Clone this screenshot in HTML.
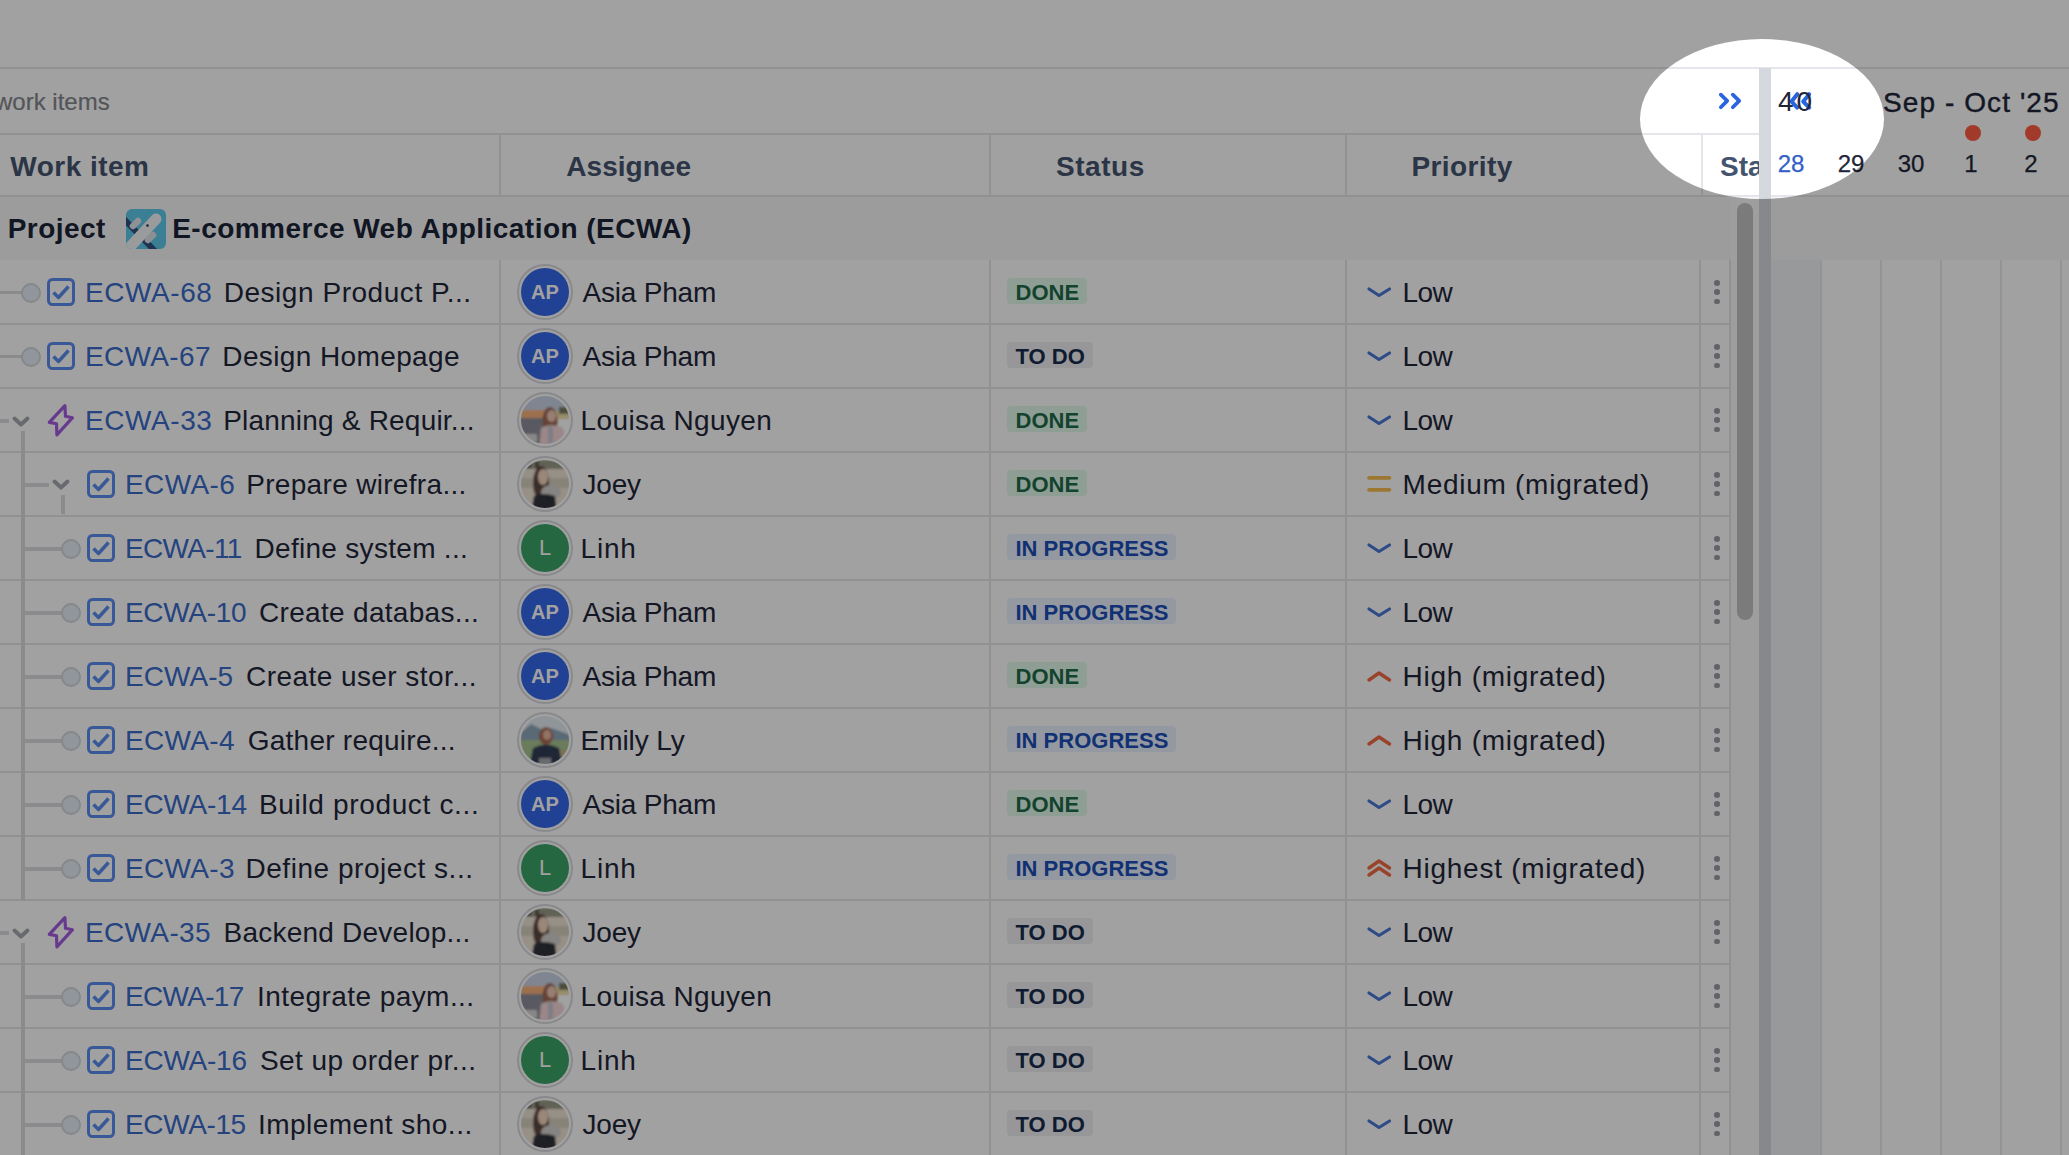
<!DOCTYPE html><html><head><meta charset="utf-8"><style>
*{margin:0;padding:0;box-sizing:border-box}
html,body{width:2069px;height:1155px;overflow:hidden;background:#fff}
body{position:relative;font-family:"Liberation Sans",sans-serif}
.t{position:absolute;white-space:nowrap;line-height:64px;font-size:28px;color:#1f2639;-webkit-text-stroke:0}
.hd,.b,.loz{-webkit-text-stroke:0}
.hd{font-weight:bold;color:#44546f}
.b{font-weight:bold;color:#1c2438}
.key{color:#3a6bc9}
.ttl{color:#1f2639}
.nm{color:#1f2639}
.ln{position:absolute;background:#e4e6e9}
.tl{position:absolute;background:#dcdde1}
.tln{background:#e9ebee}
.ic{position:absolute;overflow:visible}
.dot{position:absolute;width:20px;height:20px;border-radius:50%;background:#e6ecf8;border:2.5px solid #d4d6db}
.av{position:absolute;width:56px;height:56px;border-radius:50%;background:#fff;border:2px solid #d9dade;padding:2px}
.avi{position:relative;width:48px;height:48px;border-radius:50%;overflow:hidden;text-align:center}
.ini{display:block;line-height:48px;font-size:20px;font-weight:bold;color:#fff}
.loz{position:absolute;height:26px;line-height:26px;padding:1.5px 8px 0 8.5px;border-radius:4px;font-size:22px;font-weight:bold;white-space:nowrap}
.more{position:absolute;width:6px;height:26px}
.more i{display:block;width:5.6px;height:5.6px;border-radius:50%;background:#9a9ea6;margin-bottom:3.7px}
</style></head><body>
<div class="ln" style="left:0;top:67px;width:2069px;height:2px"></div>
<div class="ln" style="left:0;top:133px;width:1759px;height:2px"></div>
<div class="ln" style="left:0;top:195px;width:2069px;height:2px"></div>
<div class="t" style="left:-5px;top:70px;font-size:24px;color:#84878d;-webkit-text-stroke:0.2px currentColor">work items</div>
<div class="t hd" style="left:10.3px;letter-spacing:0.469px;top:135px">Work item</div>
<div class="t hd" style="left:566.3px;letter-spacing:0.025px;top:135px">Assignee</div>
<div class="t hd" style="left:1056px;letter-spacing:0.54px;top:135px">Status</div>
<div class="t hd" style="left:1411.4px;letter-spacing:0.406px;top:135px">Priority</div>
<div class="t hd" style="left:1720px;top:135px;width:39px;overflow:hidden">Start date</div>
<div class="ln" style="left:499px;top:135px;width:2px;height:60px"></div>
<div class="ln" style="left:989px;top:135px;width:2px;height:60px"></div>
<div class="ln" style="left:1345px;top:135px;width:2px;height:60px"></div>
<div class="ln" style="left:1701px;top:135px;width:2px;height:60px"></div>
<div style="position:absolute;left:0;top:197px;width:1731px;height:63px;background:#f7f8f9"></div>
<div style="position:absolute;left:1731px;top:197px;width:28px;height:958px;background:#fbfbfc"></div>
<div style="position:absolute;left:1771px;top:197px;width:298px;height:63px;background:#f5f8f6"></div>
<div class="t b" style="left:7.7px;letter-spacing:0.45px;top:197px">Project</div>
<svg class="ic" style="left:126px;top:209px" width="40" height="40" viewBox="0 0 40 40"><defs><clipPath id="pc"><rect x="0" y="0" width="40" height="40" rx="6"/></clipPath></defs><g clip-path="url(#pc)"><rect x="0" y="0" width="40" height="40" fill="#5cc9ea"/><path d="M-2 10 L29 42" stroke="#30517f" stroke-width="6"/><path d="M7 17 L12 12" stroke="#e4e6ea" stroke-width="6.5" stroke-linecap="round"/><path d="M22 31 L27 26" stroke="#dfe2e8" stroke-width="6.5" stroke-linecap="round"/><path d="M3 39 L30 10" stroke="#f4f5f8" stroke-width="11" stroke-linecap="round"/><circle cx="21.5" cy="16.5" r="1.3" fill="#2a3a50"/></g></svg>
<div class="t b" style="left:172.2px;letter-spacing:0.469px;top:197px">E-commerce Web Application (ECWA)</div>
<div class="ln" style="left:0;top:323px;width:1731px;height:2px"></div>
<div class="ln" style="left:499px;top:260px;width:2px;height:64px"></div>
<div class="ln" style="left:989px;top:260px;width:2px;height:64px"></div>
<div class="ln" style="left:1345px;top:260px;width:2px;height:64px"></div>
<div class="ln" style="left:1699px;top:260px;width:2px;height:64px"></div>
<div class="ln" style="left:1729px;top:260px;width:2px;height:64px"></div>
<div class="tl" style="left:0;top:291px;width:24px;height:3px"></div>
<div class="dot" style="left:21px;top:283px"></div>
<svg class="ic" style="left:47px;top:278px" width="28" height="28" viewBox="0 0 28 28"><rect x="1.5" y="1.5" width="25" height="25" rx="4" fill="none" stroke="#5a8cf0" stroke-width="3"/><path d="M6.5 14.5 L11.5 19.5 L21.5 8.5" fill="none" stroke="#5a8cf0" stroke-width="3.4" stroke-linejoin="round"/></svg>
<div class="t key" style="left:85px;letter-spacing:0.574px;top:261px">ECWA-68</div>
<div class="t ttl" style="left:223.7px;letter-spacing:0.542px;top:261px">Design Product P...</div>
<div class="av" style="left:517px;top:264px"><div class="avi" style="background:#3567ea"><span class="ini">AP</span></div></div>
<div class="t nm" style="left:582.6px;letter-spacing:-0.221px;top:261px">Asia Pham</div>
<div class="loz" style="left:1007px;top:278px;background:#e2fbed;color:#1f6b4a">DONE</div>
<svg class="ic" style="left:1366px;top:285px" width="26" height="14" viewBox="0 0 26 14"><path d="M3 4 L13 10.5 L23.5 4" fill="none" stroke="#4a78d6" stroke-width="3.2" stroke-linecap="round" stroke-linejoin="round"/></svg>
<div class="t nm" style="left:1402.6px;letter-spacing:-0.572px;top:261px">Low</div>
<div class="more" style="left:1714.2px;top:280.2px"><i></i><i></i><i></i></div>
<div class="ln" style="left:0;top:387px;width:1731px;height:2px"></div>
<div class="ln" style="left:499px;top:324px;width:2px;height:64px"></div>
<div class="ln" style="left:989px;top:324px;width:2px;height:64px"></div>
<div class="ln" style="left:1345px;top:324px;width:2px;height:64px"></div>
<div class="ln" style="left:1699px;top:324px;width:2px;height:64px"></div>
<div class="ln" style="left:1729px;top:324px;width:2px;height:64px"></div>
<div class="tl" style="left:0;top:355px;width:24px;height:3px"></div>
<div class="dot" style="left:21px;top:347px"></div>
<svg class="ic" style="left:47px;top:342px" width="28" height="28" viewBox="0 0 28 28"><rect x="1.5" y="1.5" width="25" height="25" rx="4" fill="none" stroke="#5a8cf0" stroke-width="3"/><path d="M6.5 14.5 L11.5 19.5 L21.5 8.5" fill="none" stroke="#5a8cf0" stroke-width="3.4" stroke-linejoin="round"/></svg>
<div class="t key" style="left:85px;letter-spacing:0.34px;top:325px">ECWA-67</div>
<div class="t ttl" style="left:222.3px;letter-spacing:0.383px;top:325px">Design Homepage</div>
<div class="av" style="left:517px;top:328px"><div class="avi" style="background:#3567ea"><span class="ini">AP</span></div></div>
<div class="t nm" style="left:582.6px;letter-spacing:-0.221px;top:325px">Asia Pham</div>
<div class="loz" style="left:1007px;top:342px;background:#eff0f3;color:#172b4d">TO DO</div>
<svg class="ic" style="left:1366px;top:349px" width="26" height="14" viewBox="0 0 26 14"><path d="M3 4 L13 10.5 L23.5 4" fill="none" stroke="#4a78d6" stroke-width="3.2" stroke-linecap="round" stroke-linejoin="round"/></svg>
<div class="t nm" style="left:1402.6px;letter-spacing:-0.572px;top:325px">Low</div>
<div class="more" style="left:1714.2px;top:344.2px"><i></i><i></i><i></i></div>
<div class="ln" style="left:0;top:451px;width:1731px;height:2px"></div>
<div class="ln" style="left:499px;top:388px;width:2px;height:64px"></div>
<div class="ln" style="left:989px;top:388px;width:2px;height:64px"></div>
<div class="ln" style="left:1345px;top:388px;width:2px;height:64px"></div>
<div class="ln" style="left:1699px;top:388px;width:2px;height:64px"></div>
<div class="ln" style="left:1729px;top:388px;width:2px;height:64px"></div>
<div class="tl" style="left:0;top:419px;width:9px;height:4px"></div>
<svg class="ic" style="left:12px;top:416px" width="18" height="12" viewBox="0 0 18 12"><path d="M2.5 2.5 L9 8.5 L15.5 2.5" fill="none" stroke="#a5a9b0" stroke-width="4" stroke-linecap="round" stroke-linejoin="round"/></svg>
<svg class="ic" style="left:47px;top:404px" width="28" height="32" viewBox="0 0 28 32"><path d="M17.9 1.6 L18.5 12.3 L25.5 13.7 L9.9 30.8 L9.5 19.7 L2.3 18.4 Z" fill="none" stroke="#a45de0" stroke-width="3.2" stroke-linejoin="round"/></svg>
<div class="tl" style="left:21px;top:431px;width:4px;height:22px"></div>
<div class="t key" style="left:85px;letter-spacing:0.574px;top:389px">ECWA-33</div>
<div class="t ttl" style="left:223.2px;letter-spacing:0.205px;top:389px">Planning &amp; Requir...</div>
<div class="av" style="left:517px;top:392px"><svg class="avi" width="48" height="48" viewBox="0 0 48 48"><defs><filter id="blLN420" x="-10%" y="-10%" width="120%" height="120%"><feGaussianBlur stdDeviation="1.3"/></filter></defs><g filter="url(#blLN420)"><rect x="-4" y="-4" width="56" height="22" fill="#c9d3e6"/><rect x="-4" y="14" width="30" height="8" fill="#f7b27a"/><rect x="26" y="15" width="26" height="8" fill="#f0e0a8"/><rect x="-4" y="22" width="30" height="30" fill="#8e8e9c"/><rect x="38" y="11" width="12" height="7" fill="#7a7a60"/><rect x="2" y="38" width="14" height="8" fill="#d8d8d8"/><ellipse cx="29" cy="25" rx="7.5" ry="14" fill="#a06858"/><ellipse cx="30.5" cy="20" rx="4.5" ry="6" fill="#f0c8b4"/><path d="M18 52 L20 32 Q30 26 42 32 L46 52 Z" fill="#f5d6d6"/><rect x="27" y="30" width="5" height="20" fill="#c8c8d4"/></g></svg></div>
<div class="t nm" style="left:580.6px;letter-spacing:0.364px;top:389px">Louisa Nguyen</div>
<div class="loz" style="left:1007px;top:406px;background:#e2fbed;color:#1f6b4a">DONE</div>
<svg class="ic" style="left:1366px;top:413px" width="26" height="14" viewBox="0 0 26 14"><path d="M3 4 L13 10.5 L23.5 4" fill="none" stroke="#4a78d6" stroke-width="3.2" stroke-linecap="round" stroke-linejoin="round"/></svg>
<div class="t nm" style="left:1402.6px;letter-spacing:-0.572px;top:389px">Low</div>
<div class="more" style="left:1714.2px;top:408.2px"><i></i><i></i><i></i></div>
<div class="ln" style="left:0;top:515px;width:1731px;height:2px"></div>
<div class="ln" style="left:499px;top:452px;width:2px;height:64px"></div>
<div class="ln" style="left:989px;top:452px;width:2px;height:64px"></div>
<div class="ln" style="left:1345px;top:452px;width:2px;height:64px"></div>
<div class="ln" style="left:1699px;top:452px;width:2px;height:64px"></div>
<div class="ln" style="left:1729px;top:452px;width:2px;height:64px"></div>
<div class="tl" style="left:21px;top:452px;width:4px;height:64px"></div>
<div class="tl" style="left:21px;top:483px;width:28px;height:4px"></div>
<svg class="ic" style="left:52px;top:479px" width="18" height="12" viewBox="0 0 18 12"><path d="M2.5 2.5 L9 8.5 L15.5 2.5" fill="none" stroke="#a5a9b0" stroke-width="4" stroke-linecap="round" stroke-linejoin="round"/></svg>
<div class="tl" style="left:61px;top:495px;width:4px;height:19px"></div>
<svg class="ic" style="left:87px;top:470px" width="28" height="28" viewBox="0 0 28 28"><rect x="1.5" y="1.5" width="25" height="25" rx="4" fill="none" stroke="#5a8cf0" stroke-width="3"/><path d="M6.5 14.5 L11.5 19.5 L21.5 8.5" fill="none" stroke="#5a8cf0" stroke-width="3.4" stroke-linejoin="round"/></svg>
<div class="t key" style="left:125px;letter-spacing:0.403px;top:453px">ECWA-6</div>
<div class="t ttl" style="left:246.2px;letter-spacing:0.32px;top:453px">Prepare wirefra...</div>
<div class="av" style="left:517px;top:456px"><svg class="avi" width="48" height="48" viewBox="0 0 48 48"><defs><filter id="blJO484" x="-10%" y="-10%" width="120%" height="120%"><feGaussianBlur stdDeviation="1.3"/></filter></defs><g filter="url(#blJO484)"><rect x="-4" y="-4" width="56" height="56" fill="#eee4d4"/><rect x="-4" y="0" width="56" height="9" fill="#9c9a88"/><rect x="6" y="2" width="4" height="6" fill="#5a5a4e"/><rect x="14" y="2" width="4" height="6" fill="#5a5a4e"/><rect x="-4" y="18" width="56" height="10" fill="#d8d0c0"/><ellipse cx="20" cy="23" rx="8" ry="17" fill="#5e4640"/><ellipse cx="22" cy="17" rx="5" ry="8" fill="#f6d6c2"/><ellipse cx="30" cy="32" rx="10" ry="7" fill="#d4d2ce"/><path d="M10 52 L13 36 Q22 32 34 36 L36 52 Z" fill="#30333e"/></g></svg></div>
<div class="t nm" style="left:582.6px;letter-spacing:-0.248px;top:453px">Joey</div>
<div class="loz" style="left:1007px;top:470px;background:#e2fbed;color:#1f6b4a">DONE</div>
<svg class="ic" style="left:1366px;top:474px" width="26" height="20" viewBox="0 0 26 20"><path d="M3 3.8 L23.5 3.8 M3 15.8 L23.5 15.8" fill="none" stroke="#f8bd4e" stroke-width="3.7" stroke-linecap="round"/></svg>
<div class="t nm" style="left:1402.6px;letter-spacing:0.73px;top:453px">Medium (migrated)</div>
<div class="more" style="left:1714.2px;top:472.2px"><i></i><i></i><i></i></div>
<div class="ln" style="left:0;top:579px;width:1731px;height:2px"></div>
<div class="ln" style="left:499px;top:516px;width:2px;height:64px"></div>
<div class="ln" style="left:989px;top:516px;width:2px;height:64px"></div>
<div class="ln" style="left:1345px;top:516px;width:2px;height:64px"></div>
<div class="ln" style="left:1699px;top:516px;width:2px;height:64px"></div>
<div class="ln" style="left:1729px;top:516px;width:2px;height:64px"></div>
<div class="tl" style="left:21px;top:516px;width:4px;height:64px"></div>
<div class="tl" style="left:21px;top:547px;width:44px;height:4px"></div>
<div class="dot" style="left:61px;top:539px"></div>
<svg class="ic" style="left:87px;top:534px" width="28" height="28" viewBox="0 0 28 28"><rect x="1.5" y="1.5" width="25" height="25" rx="4" fill="none" stroke="#5a8cf0" stroke-width="3"/><path d="M6.5 14.5 L11.5 19.5 L21.5 8.5" fill="none" stroke="#5a8cf0" stroke-width="3.4" stroke-linejoin="round"/></svg>
<div class="t key" style="left:125px;letter-spacing:-0.663px;top:517px">ECWA-11</div>
<div class="t ttl" style="left:254.5px;letter-spacing:0.298px;top:517px">Define system ...</div>
<div class="av" style="left:517px;top:520px"><div class="avi" style="background:#3ba366"><span class="ini" style="font-weight:normal;font-size:22px">L</span></div></div>
<div class="t nm" style="left:580.6px;letter-spacing:0.778px;top:517px">Linh</div>
<div class="loz" style="left:1007px;top:534px;background:#ebf1fd;color:#1b4fb8">IN PROGRESS</div>
<svg class="ic" style="left:1366px;top:541px" width="26" height="14" viewBox="0 0 26 14"><path d="M3 4 L13 10.5 L23.5 4" fill="none" stroke="#4a78d6" stroke-width="3.2" stroke-linecap="round" stroke-linejoin="round"/></svg>
<div class="t nm" style="left:1402.6px;letter-spacing:-0.572px;top:517px">Low</div>
<div class="more" style="left:1714.2px;top:536.2px"><i></i><i></i><i></i></div>
<div class="ln" style="left:0;top:643px;width:1731px;height:2px"></div>
<div class="ln" style="left:499px;top:580px;width:2px;height:64px"></div>
<div class="ln" style="left:989px;top:580px;width:2px;height:64px"></div>
<div class="ln" style="left:1345px;top:580px;width:2px;height:64px"></div>
<div class="ln" style="left:1699px;top:580px;width:2px;height:64px"></div>
<div class="ln" style="left:1729px;top:580px;width:2px;height:64px"></div>
<div class="tl" style="left:21px;top:580px;width:4px;height:64px"></div>
<div class="tl" style="left:21px;top:611px;width:44px;height:4px"></div>
<div class="dot" style="left:61px;top:603px"></div>
<svg class="ic" style="left:87px;top:598px" width="28" height="28" viewBox="0 0 28 28"><rect x="1.5" y="1.5" width="25" height="25" rx="4" fill="none" stroke="#5a8cf0" stroke-width="3"/><path d="M6.5 14.5 L11.5 19.5 L21.5 8.5" fill="none" stroke="#5a8cf0" stroke-width="3.4" stroke-linejoin="round"/></svg>
<div class="t key" style="left:125px;letter-spacing:-0.326px;top:581px">ECWA-10</div>
<div class="t ttl" style="left:259px;letter-spacing:0.311px;top:581px">Create databas...</div>
<div class="av" style="left:517px;top:584px"><div class="avi" style="background:#3567ea"><span class="ini">AP</span></div></div>
<div class="t nm" style="left:582.6px;letter-spacing:-0.221px;top:581px">Asia Pham</div>
<div class="loz" style="left:1007px;top:598px;background:#ebf1fd;color:#1b4fb8">IN PROGRESS</div>
<svg class="ic" style="left:1366px;top:605px" width="26" height="14" viewBox="0 0 26 14"><path d="M3 4 L13 10.5 L23.5 4" fill="none" stroke="#4a78d6" stroke-width="3.2" stroke-linecap="round" stroke-linejoin="round"/></svg>
<div class="t nm" style="left:1402.6px;letter-spacing:-0.572px;top:581px">Low</div>
<div class="more" style="left:1714.2px;top:600.2px"><i></i><i></i><i></i></div>
<div class="ln" style="left:0;top:707px;width:1731px;height:2px"></div>
<div class="ln" style="left:499px;top:644px;width:2px;height:64px"></div>
<div class="ln" style="left:989px;top:644px;width:2px;height:64px"></div>
<div class="ln" style="left:1345px;top:644px;width:2px;height:64px"></div>
<div class="ln" style="left:1699px;top:644px;width:2px;height:64px"></div>
<div class="ln" style="left:1729px;top:644px;width:2px;height:64px"></div>
<div class="tl" style="left:21px;top:644px;width:4px;height:64px"></div>
<div class="tl" style="left:21px;top:675px;width:44px;height:4px"></div>
<div class="dot" style="left:61px;top:667px"></div>
<svg class="ic" style="left:87px;top:662px" width="28" height="28" viewBox="0 0 28 28"><rect x="1.5" y="1.5" width="25" height="25" rx="4" fill="none" stroke="#5a8cf0" stroke-width="3"/><path d="M6.5 14.5 L11.5 19.5 L21.5 8.5" fill="none" stroke="#5a8cf0" stroke-width="3.4" stroke-linejoin="round"/></svg>
<div class="t key" style="left:125px;letter-spacing:0.063px;top:645px">ECWA-5</div>
<div class="t ttl" style="left:246px;letter-spacing:0.441px;top:645px">Create user stor...</div>
<div class="av" style="left:517px;top:648px"><div class="avi" style="background:#3567ea"><span class="ini">AP</span></div></div>
<div class="t nm" style="left:582.6px;letter-spacing:-0.221px;top:645px">Asia Pham</div>
<div class="loz" style="left:1007px;top:662px;background:#e2fbed;color:#1f6b4a">DONE</div>
<svg class="ic" style="left:1366px;top:669px" width="26" height="14" viewBox="0 0 26 14"><path d="M3 11 L13 4 L23.5 11" fill="none" stroke="#f26a44" stroke-width="3.4" stroke-linecap="round" stroke-linejoin="round"/></svg>
<div class="t nm" style="left:1402.6px;letter-spacing:0.734px;top:645px">High (migrated)</div>
<div class="more" style="left:1714.2px;top:664.2px"><i></i><i></i><i></i></div>
<div class="ln" style="left:0;top:771px;width:1731px;height:2px"></div>
<div class="ln" style="left:499px;top:708px;width:2px;height:64px"></div>
<div class="ln" style="left:989px;top:708px;width:2px;height:64px"></div>
<div class="ln" style="left:1345px;top:708px;width:2px;height:64px"></div>
<div class="ln" style="left:1699px;top:708px;width:2px;height:64px"></div>
<div class="ln" style="left:1729px;top:708px;width:2px;height:64px"></div>
<div class="tl" style="left:21px;top:708px;width:4px;height:64px"></div>
<div class="tl" style="left:21px;top:739px;width:44px;height:4px"></div>
<div class="dot" style="left:61px;top:731px"></div>
<svg class="ic" style="left:87px;top:726px" width="28" height="28" viewBox="0 0 28 28"><rect x="1.5" y="1.5" width="25" height="25" rx="4" fill="none" stroke="#5a8cf0" stroke-width="3"/><path d="M6.5 14.5 L11.5 19.5 L21.5 8.5" fill="none" stroke="#5a8cf0" stroke-width="3.4" stroke-linejoin="round"/></svg>
<div class="t key" style="left:125px;letter-spacing:0.343px;top:709px">ECWA-4</div>
<div class="t ttl" style="left:247.7px;letter-spacing:0.25px;top:709px">Gather require...</div>
<div class="av" style="left:517px;top:712px"><svg class="avi" width="48" height="48" viewBox="0 0 48 48"><defs><filter id="blEL740" x="-10%" y="-10%" width="120%" height="120%"><feGaussianBlur stdDeviation="1.3"/></filter></defs><g filter="url(#blEL740)"><rect x="-4" y="-4" width="56" height="56" fill="#e4ecf2"/><path d="M-4 20 L10 8 L22 14 L30 12 L52 20 L52 28 L-4 28 Z" fill="#8ea6ba"/><rect x="-4" y="24" width="56" height="28" fill="#a8c490"/><rect x="34" y="34" width="14" height="10" fill="#c0b88a"/><ellipse cx="25" cy="20" rx="7" ry="9" fill="#a86a52"/><ellipse cx="26" cy="19" rx="4" ry="5" fill="#e8b8a0"/><path d="M8 52 L12 32 Q25 25 38 32 L42 52 Z" fill="#333c56"/><rect x="18" y="42" width="12" height="8" fill="#a8a8b0"/></g></svg></div>
<div class="t nm" style="left:580.6px;letter-spacing:-0.093px;top:709px">Emily Ly</div>
<div class="loz" style="left:1007px;top:726px;background:#ebf1fd;color:#1b4fb8">IN PROGRESS</div>
<svg class="ic" style="left:1366px;top:733px" width="26" height="14" viewBox="0 0 26 14"><path d="M3 11 L13 4 L23.5 11" fill="none" stroke="#f26a44" stroke-width="3.4" stroke-linecap="round" stroke-linejoin="round"/></svg>
<div class="t nm" style="left:1402.6px;letter-spacing:0.734px;top:709px">High (migrated)</div>
<div class="more" style="left:1714.2px;top:728.2px"><i></i><i></i><i></i></div>
<div class="ln" style="left:0;top:835px;width:1731px;height:2px"></div>
<div class="ln" style="left:499px;top:772px;width:2px;height:64px"></div>
<div class="ln" style="left:989px;top:772px;width:2px;height:64px"></div>
<div class="ln" style="left:1345px;top:772px;width:2px;height:64px"></div>
<div class="ln" style="left:1699px;top:772px;width:2px;height:64px"></div>
<div class="ln" style="left:1729px;top:772px;width:2px;height:64px"></div>
<div class="tl" style="left:21px;top:772px;width:4px;height:64px"></div>
<div class="tl" style="left:21px;top:803px;width:44px;height:4px"></div>
<div class="dot" style="left:61px;top:795px"></div>
<svg class="ic" style="left:87px;top:790px" width="28" height="28" viewBox="0 0 28 28"><rect x="1.5" y="1.5" width="25" height="25" rx="4" fill="none" stroke="#5a8cf0" stroke-width="3"/><path d="M6.5 14.5 L11.5 19.5 L21.5 8.5" fill="none" stroke="#5a8cf0" stroke-width="3.4" stroke-linejoin="round"/></svg>
<div class="t key" style="left:125px;letter-spacing:-0.243px;top:773px">ECWA-14</div>
<div class="t ttl" style="left:259px;letter-spacing:0.655px;top:773px">Build product c...</div>
<div class="av" style="left:517px;top:776px"><div class="avi" style="background:#3567ea"><span class="ini">AP</span></div></div>
<div class="t nm" style="left:582.6px;letter-spacing:-0.221px;top:773px">Asia Pham</div>
<div class="loz" style="left:1007px;top:790px;background:#e2fbed;color:#1f6b4a">DONE</div>
<svg class="ic" style="left:1366px;top:797px" width="26" height="14" viewBox="0 0 26 14"><path d="M3 4 L13 10.5 L23.5 4" fill="none" stroke="#4a78d6" stroke-width="3.2" stroke-linecap="round" stroke-linejoin="round"/></svg>
<div class="t nm" style="left:1402.6px;letter-spacing:-0.572px;top:773px">Low</div>
<div class="more" style="left:1714.2px;top:792.2px"><i></i><i></i><i></i></div>
<div class="ln" style="left:0;top:899px;width:1731px;height:2px"></div>
<div class="ln" style="left:499px;top:836px;width:2px;height:64px"></div>
<div class="ln" style="left:989px;top:836px;width:2px;height:64px"></div>
<div class="ln" style="left:1345px;top:836px;width:2px;height:64px"></div>
<div class="ln" style="left:1699px;top:836px;width:2px;height:64px"></div>
<div class="ln" style="left:1729px;top:836px;width:2px;height:64px"></div>
<div class="tl" style="left:21px;top:836px;width:4px;height:64px"></div>
<div class="tl" style="left:21px;top:867px;width:44px;height:4px"></div>
<div class="dot" style="left:61px;top:859px"></div>
<svg class="ic" style="left:87px;top:854px" width="28" height="28" viewBox="0 0 28 28"><rect x="1.5" y="1.5" width="25" height="25" rx="4" fill="none" stroke="#5a8cf0" stroke-width="3"/><path d="M6.5 14.5 L11.5 19.5 L21.5 8.5" fill="none" stroke="#5a8cf0" stroke-width="3.4" stroke-linejoin="round"/></svg>
<div class="t key" style="left:125px;letter-spacing:0.343px;top:837px">ECWA-3</div>
<div class="t ttl" style="left:245.5px;letter-spacing:0.534px;top:837px">Define project s...</div>
<div class="av" style="left:517px;top:840px"><div class="avi" style="background:#3ba366"><span class="ini" style="font-weight:normal;font-size:22px">L</span></div></div>
<div class="t nm" style="left:580.6px;letter-spacing:0.778px;top:837px">Linh</div>
<div class="loz" style="left:1007px;top:854px;background:#ebf1fd;color:#1b4fb8">IN PROGRESS</div>
<svg class="ic" style="left:1366px;top:858px" width="26" height="20" viewBox="0 0 26 20"><path d="M3 10 L13 3 L23.5 10 M3 17 L13 10 L23.5 17" fill="none" stroke="#f26a44" stroke-width="3.4" stroke-linecap="round" stroke-linejoin="round"/></svg>
<div class="t nm" style="left:1402.6px;letter-spacing:0.731px;top:837px">Highest (migrated)</div>
<div class="more" style="left:1714.2px;top:856.2px"><i></i><i></i><i></i></div>
<div class="ln" style="left:0;top:963px;width:1731px;height:2px"></div>
<div class="ln" style="left:499px;top:900px;width:2px;height:64px"></div>
<div class="ln" style="left:989px;top:900px;width:2px;height:64px"></div>
<div class="ln" style="left:1345px;top:900px;width:2px;height:64px"></div>
<div class="ln" style="left:1699px;top:900px;width:2px;height:64px"></div>
<div class="ln" style="left:1729px;top:900px;width:2px;height:64px"></div>
<div class="tl" style="left:0;top:931px;width:9px;height:4px"></div>
<svg class="ic" style="left:12px;top:928px" width="18" height="12" viewBox="0 0 18 12"><path d="M2.5 2.5 L9 8.5 L15.5 2.5" fill="none" stroke="#a5a9b0" stroke-width="4" stroke-linecap="round" stroke-linejoin="round"/></svg>
<svg class="ic" style="left:47px;top:916px" width="28" height="32" viewBox="0 0 28 32"><path d="M17.9 1.6 L18.5 12.3 L25.5 13.7 L9.9 30.8 L9.5 19.7 L2.3 18.4 Z" fill="none" stroke="#a45de0" stroke-width="3.2" stroke-linejoin="round"/></svg>
<div class="tl" style="left:21px;top:943px;width:4px;height:22px"></div>
<div class="t key" style="left:85px;letter-spacing:0.357px;top:901px">ECWA-35</div>
<div class="t ttl" style="left:223.5px;letter-spacing:0.233px;top:901px">Backend Develop...</div>
<div class="av" style="left:517px;top:904px"><svg class="avi" width="48" height="48" viewBox="0 0 48 48"><defs><filter id="blJO932" x="-10%" y="-10%" width="120%" height="120%"><feGaussianBlur stdDeviation="1.3"/></filter></defs><g filter="url(#blJO932)"><rect x="-4" y="-4" width="56" height="56" fill="#eee4d4"/><rect x="-4" y="0" width="56" height="9" fill="#9c9a88"/><rect x="6" y="2" width="4" height="6" fill="#5a5a4e"/><rect x="14" y="2" width="4" height="6" fill="#5a5a4e"/><rect x="-4" y="18" width="56" height="10" fill="#d8d0c0"/><ellipse cx="20" cy="23" rx="8" ry="17" fill="#5e4640"/><ellipse cx="22" cy="17" rx="5" ry="8" fill="#f6d6c2"/><ellipse cx="30" cy="32" rx="10" ry="7" fill="#d4d2ce"/><path d="M10 52 L13 36 Q22 32 34 36 L36 52 Z" fill="#30333e"/></g></svg></div>
<div class="t nm" style="left:582.6px;letter-spacing:-0.248px;top:901px">Joey</div>
<div class="loz" style="left:1007px;top:918px;background:#eff0f3;color:#172b4d">TO DO</div>
<svg class="ic" style="left:1366px;top:925px" width="26" height="14" viewBox="0 0 26 14"><path d="M3 4 L13 10.5 L23.5 4" fill="none" stroke="#4a78d6" stroke-width="3.2" stroke-linecap="round" stroke-linejoin="round"/></svg>
<div class="t nm" style="left:1402.6px;letter-spacing:-0.572px;top:901px">Low</div>
<div class="more" style="left:1714.2px;top:920.2px"><i></i><i></i><i></i></div>
<div class="ln" style="left:0;top:1027px;width:1731px;height:2px"></div>
<div class="ln" style="left:499px;top:964px;width:2px;height:64px"></div>
<div class="ln" style="left:989px;top:964px;width:2px;height:64px"></div>
<div class="ln" style="left:1345px;top:964px;width:2px;height:64px"></div>
<div class="ln" style="left:1699px;top:964px;width:2px;height:64px"></div>
<div class="ln" style="left:1729px;top:964px;width:2px;height:64px"></div>
<div class="tl" style="left:21px;top:964px;width:4px;height:64px"></div>
<div class="tl" style="left:21px;top:995px;width:44px;height:4px"></div>
<div class="dot" style="left:61px;top:987px"></div>
<svg class="ic" style="left:87px;top:982px" width="28" height="28" viewBox="0 0 28 28"><rect x="1.5" y="1.5" width="25" height="25" rx="4" fill="none" stroke="#5a8cf0" stroke-width="3"/><path d="M6.5 14.5 L11.5 19.5 L21.5 8.5" fill="none" stroke="#5a8cf0" stroke-width="3.4" stroke-linejoin="round"/></svg>
<div class="t key" style="left:125px;letter-spacing:-0.693px;top:965px">ECWA-17</div>
<div class="t ttl" style="left:257px;letter-spacing:0.436px;top:965px">Integrate paym...</div>
<div class="av" style="left:517px;top:968px"><svg class="avi" width="48" height="48" viewBox="0 0 48 48"><defs><filter id="blLN996" x="-10%" y="-10%" width="120%" height="120%"><feGaussianBlur stdDeviation="1.3"/></filter></defs><g filter="url(#blLN996)"><rect x="-4" y="-4" width="56" height="22" fill="#c9d3e6"/><rect x="-4" y="14" width="30" height="8" fill="#f7b27a"/><rect x="26" y="15" width="26" height="8" fill="#f0e0a8"/><rect x="-4" y="22" width="30" height="30" fill="#8e8e9c"/><rect x="38" y="11" width="12" height="7" fill="#7a7a60"/><rect x="2" y="38" width="14" height="8" fill="#d8d8d8"/><ellipse cx="29" cy="25" rx="7.5" ry="14" fill="#a06858"/><ellipse cx="30.5" cy="20" rx="4.5" ry="6" fill="#f0c8b4"/><path d="M18 52 L20 32 Q30 26 42 32 L46 52 Z" fill="#f5d6d6"/><rect x="27" y="30" width="5" height="20" fill="#c8c8d4"/></g></svg></div>
<div class="t nm" style="left:580.6px;letter-spacing:0.364px;top:965px">Louisa Nguyen</div>
<div class="loz" style="left:1007px;top:982px;background:#eff0f3;color:#172b4d">TO DO</div>
<svg class="ic" style="left:1366px;top:989px" width="26" height="14" viewBox="0 0 26 14"><path d="M3 4 L13 10.5 L23.5 4" fill="none" stroke="#4a78d6" stroke-width="3.2" stroke-linecap="round" stroke-linejoin="round"/></svg>
<div class="t nm" style="left:1402.6px;letter-spacing:-0.572px;top:965px">Low</div>
<div class="more" style="left:1714.2px;top:984.2px"><i></i><i></i><i></i></div>
<div class="ln" style="left:0;top:1091px;width:1731px;height:2px"></div>
<div class="ln" style="left:499px;top:1028px;width:2px;height:64px"></div>
<div class="ln" style="left:989px;top:1028px;width:2px;height:64px"></div>
<div class="ln" style="left:1345px;top:1028px;width:2px;height:64px"></div>
<div class="ln" style="left:1699px;top:1028px;width:2px;height:64px"></div>
<div class="ln" style="left:1729px;top:1028px;width:2px;height:64px"></div>
<div class="tl" style="left:21px;top:1028px;width:4px;height:64px"></div>
<div class="tl" style="left:21px;top:1059px;width:44px;height:4px"></div>
<div class="dot" style="left:61px;top:1051px"></div>
<svg class="ic" style="left:87px;top:1046px" width="28" height="28" viewBox="0 0 28 28"><rect x="1.5" y="1.5" width="25" height="25" rx="4" fill="none" stroke="#5a8cf0" stroke-width="3"/><path d="M6.5 14.5 L11.5 19.5 L21.5 8.5" fill="none" stroke="#5a8cf0" stroke-width="3.4" stroke-linejoin="round"/></svg>
<div class="t key" style="left:125px;letter-spacing:-0.243px;top:1029px">ECWA-16</div>
<div class="t ttl" style="left:260px;letter-spacing:0.436px;top:1029px">Set up order pr...</div>
<div class="av" style="left:517px;top:1032px"><div class="avi" style="background:#3ba366"><span class="ini" style="font-weight:normal;font-size:22px">L</span></div></div>
<div class="t nm" style="left:580.6px;letter-spacing:0.778px;top:1029px">Linh</div>
<div class="loz" style="left:1007px;top:1046px;background:#eff0f3;color:#172b4d">TO DO</div>
<svg class="ic" style="left:1366px;top:1053px" width="26" height="14" viewBox="0 0 26 14"><path d="M3 4 L13 10.5 L23.5 4" fill="none" stroke="#4a78d6" stroke-width="3.2" stroke-linecap="round" stroke-linejoin="round"/></svg>
<div class="t nm" style="left:1402.6px;letter-spacing:-0.572px;top:1029px">Low</div>
<div class="more" style="left:1714.2px;top:1048.2px"><i></i><i></i><i></i></div>
<div class="ln" style="left:0;top:1155px;width:1731px;height:2px"></div>
<div class="ln" style="left:499px;top:1092px;width:2px;height:64px"></div>
<div class="ln" style="left:989px;top:1092px;width:2px;height:64px"></div>
<div class="ln" style="left:1345px;top:1092px;width:2px;height:64px"></div>
<div class="ln" style="left:1699px;top:1092px;width:2px;height:64px"></div>
<div class="ln" style="left:1729px;top:1092px;width:2px;height:64px"></div>
<div class="tl" style="left:21px;top:1092px;width:4px;height:64px"></div>
<div class="tl" style="left:21px;top:1123px;width:44px;height:4px"></div>
<div class="dot" style="left:61px;top:1115px"></div>
<svg class="ic" style="left:87px;top:1110px" width="28" height="28" viewBox="0 0 28 28"><rect x="1.5" y="1.5" width="25" height="25" rx="4" fill="none" stroke="#5a8cf0" stroke-width="3"/><path d="M6.5 14.5 L11.5 19.5 L21.5 8.5" fill="none" stroke="#5a8cf0" stroke-width="3.4" stroke-linejoin="round"/></svg>
<div class="t key" style="left:125px;letter-spacing:-0.376px;top:1093px">ECWA-15</div>
<div class="t ttl" style="left:257.9px;letter-spacing:0.487px;top:1093px">Implement sho...</div>
<div class="av" style="left:517px;top:1096px"><svg class="avi" width="48" height="48" viewBox="0 0 48 48"><defs><filter id="blJO1124" x="-10%" y="-10%" width="120%" height="120%"><feGaussianBlur stdDeviation="1.3"/></filter></defs><g filter="url(#blJO1124)"><rect x="-4" y="-4" width="56" height="56" fill="#eee4d4"/><rect x="-4" y="0" width="56" height="9" fill="#9c9a88"/><rect x="6" y="2" width="4" height="6" fill="#5a5a4e"/><rect x="14" y="2" width="4" height="6" fill="#5a5a4e"/><rect x="-4" y="18" width="56" height="10" fill="#d8d0c0"/><ellipse cx="20" cy="23" rx="8" ry="17" fill="#5e4640"/><ellipse cx="22" cy="17" rx="5" ry="8" fill="#f6d6c2"/><ellipse cx="30" cy="32" rx="10" ry="7" fill="#d4d2ce"/><path d="M10 52 L13 36 Q22 32 34 36 L36 52 Z" fill="#30333e"/></g></svg></div>
<div class="t nm" style="left:582.6px;letter-spacing:-0.248px;top:1093px">Joey</div>
<div class="loz" style="left:1007px;top:1110px;background:#eff0f3;color:#172b4d">TO DO</div>
<svg class="ic" style="left:1366px;top:1117px" width="26" height="14" viewBox="0 0 26 14"><path d="M3 4 L13 10.5 L23.5 4" fill="none" stroke="#4a78d6" stroke-width="3.2" stroke-linecap="round" stroke-linejoin="round"/></svg>
<div class="t nm" style="left:1402.6px;letter-spacing:-0.572px;top:1093px">Low</div>
<div class="more" style="left:1714.2px;top:1112.2px"><i></i><i></i><i></i></div>
<div style="position:absolute;left:1737px;top:203px;width:16px;height:417px;border-radius:8px;background:#c3c3c3"></div>
<div style="position:absolute;left:1759px;top:68px;width:12px;height:1087px;background:#d5d8de"></div>
<div style="position:absolute;left:1771px;top:260px;width:49px;height:895px;background:#f1f2f4"></div>
<div class="ln tln" style="left:1820px;top:260px;width:2px;height:895px"></div>
<div class="ln tln" style="left:1880px;top:260px;width:2px;height:895px"></div>
<div class="ln tln" style="left:1940px;top:260px;width:2px;height:895px"></div>
<div class="ln tln" style="left:2000px;top:260px;width:2px;height:895px"></div>
<div class="ln tln" style="left:2060px;top:260px;width:2px;height:895px"></div>
<svg class="ic" style="left:1788px;top:92px" width="24" height="18" viewBox="0 0 24 18"><path d="M9.2 2.2 L3.6 9.5 L9.2 15.6 M21.2 2.2 L15.2 9.5 L21.2 15.6" fill="none" stroke="#2a64de" stroke-width="4" stroke-linecap="round" stroke-linejoin="round"/></svg>
<div class="t" style="left:1778px;top:70px;font-size:28px;letter-spacing:3px;-webkit-text-stroke:0">40</div>
<svg class="ic" style="left:1716px;top:92px" width="28" height="18" viewBox="0 0 28 18"><path d="M4.8 2.6 L11.2 8.9 L4.8 15.2 M16.8 2.6 L23.2 8.9 L16.8 15.2" fill="none" stroke="#2a64de" stroke-width="3.7" stroke-linecap="round" stroke-linejoin="round"/></svg>
<div class="t" style="left:1883px;letter-spacing:1.087px;top:71px;-webkit-text-stroke:0.4px currentColor">Sep - Oct '25</div>
<div class="t" style="left:1761px;width:60px;text-align:center;top:132px;font-size:24px;color:#3360c8;-webkit-text-stroke:0.25px currentColor">28</div>
<div class="t" style="left:1821px;width:60px;text-align:center;top:132px;font-size:24px;color:#1f2639;-webkit-text-stroke:0.25px currentColor">29</div>
<div class="t" style="left:1881px;width:60px;text-align:center;top:132px;font-size:24px;color:#1f2639;-webkit-text-stroke:0.25px currentColor">30</div>
<div class="t" style="left:1941px;width:60px;text-align:center;top:132px;font-size:24px;color:#1f2639;-webkit-text-stroke:0.25px currentColor">1</div>
<div class="t" style="left:2001px;width:60px;text-align:center;top:132px;font-size:24px;color:#1f2639;-webkit-text-stroke:0.25px currentColor">2</div>
<div style="position:absolute;left:1965px;top:125px;width:16px;height:16px;border-radius:50%;background:#ff5c40"></div>
<div style="position:absolute;left:2025px;top:125px;width:16px;height:16px;border-radius:50%;background:#ff5c40"></div>
<div style="position:absolute;left:1640px;top:39px;width:244px;height:160px;border-radius:50%;box-shadow:0 0 0 5000px rgba(0,0,0,0.37)"></div>
</body></html>
